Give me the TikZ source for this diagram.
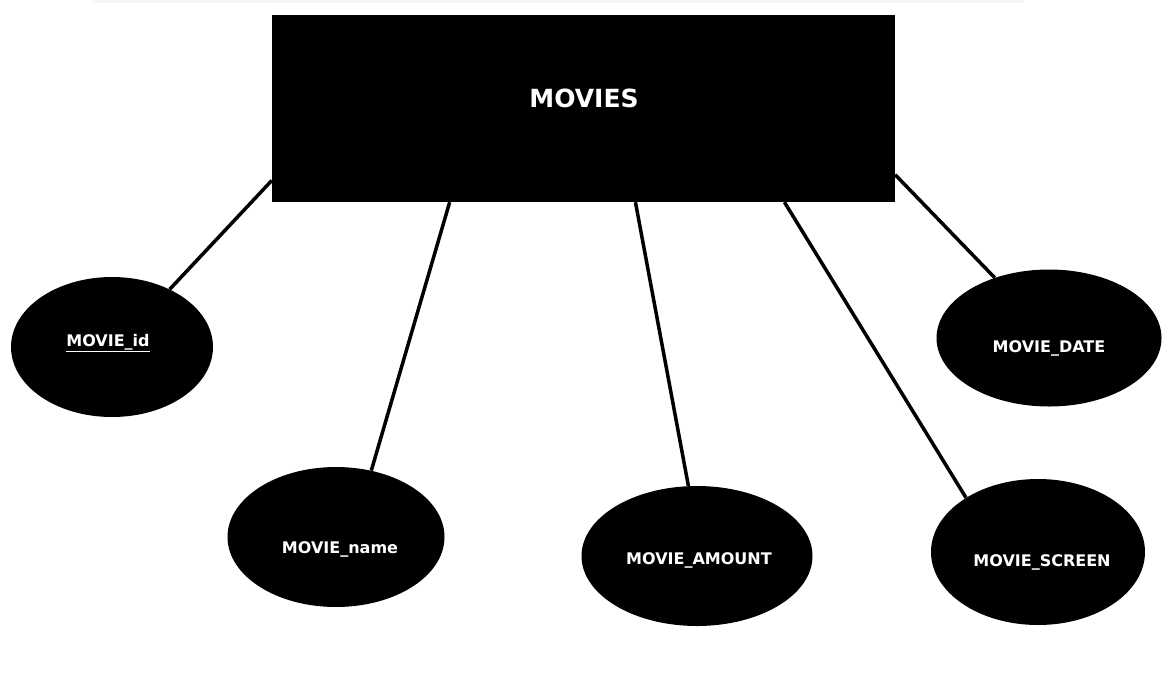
\documentclass[tikz,border=0pt]{standalone}
\usepackage{fontspec}
\setmainfont{DejaVu Sans}
\usetikzlibrary{shapes.geometric}
\begin{document}
\begin{tikzpicture}[x=1pt,y=-1pt,
  attr/.style={ellipse,fill=black,draw=none,inner sep=0pt},
  lbl/.style={text=white,font=\bfseries\fontsize{16}{18}\selectfont,inner sep=0pt},
  conn/.style={line width=3.5pt}]
\useasboundingbox (0,0) rectangle (1167,694);
\fill[black!4] (92,0) rectangle (1024,3);
% entity
\node[fill=black,minimum width=623pt,minimum height=187pt,inner sep=0pt] (box) at (583.5,108.5) {};
\node[text=white,font=\bfseries\fontsize{25}{28}\selectfont,inner sep=0pt] (boxlbl) at (584,98) {MOVIES};
% attributes
\node[attr,minimum width=202pt,minimum height=140pt] (id) at (112,347) {};
\node[attr,minimum width=217pt,minimum height=140pt] (name) at (336,537) {};
\node[attr,minimum width=231pt,minimum height=140pt] (amount) at (697,556) {};
\node[attr,minimum width=214pt,minimum height=146pt] (screen) at (1038,552) {};
\node[attr,minimum width=225pt,minimum height=137pt] (date) at (1049,338) {};
\node[lbl] (idl) at (108,343) {\underline{MOVIE\_id}};
\node[lbl] (namel) at (340,549) {MOVIE\_name};
\node[lbl] (amountl) at (699,560) {MOVIE\_AMOUNT};
\node[lbl] (screenl) at (1042,562) {MOVIE\_SCREEN};
\node[lbl] (datel) at (1049,348) {MOVIE\_DATE};
% connectors
\draw[conn] (box.193.5) -- (id.45);
\draw[conn] (box.215.4) -- (name.62);
\draw[conn] (box.299.3) -- (amount.97);
\draw[conn] (box.335) -- (screen.143);
\draw[conn] (box.348.5) -- (date.132);
\end{tikzpicture}
\end{document}
